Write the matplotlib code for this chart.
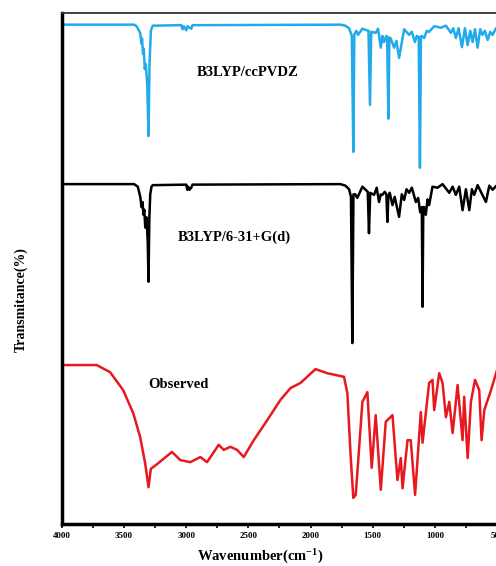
import numpy as np
import matplotlib.pyplot as plt

plt.rcParams['font.family'] = ['Liberation Serif', 'DejaVu Serif']
plt.rcParams['mathtext.default'] = 'regular'

# traced spectra: wavenumber (cm-1) and stacked transmittance (arb. %)
ccpvdz_wn = [4000, 3420, 3400, 3380, 3370, 3362, 3356, 3348, 3342, 3334, 3326, 3314,
             3304, 3296, 3285, 3270, 3040, 3030, 3020, 3000, 2990, 2960, 2950,
             1760, 1720, 1690, 1668, 1656, 1648, 1632, 1618, 1583, 1534, 1522, 1512,
             1476, 1457, 1435, 1422, 1409, 1390, 1384, 1374, 1366, 1355, 1328, 1309,
             1288, 1247, 1207, 1185, 1161, 1145, 1130, 1120, 1112, 1107, 1086, 1065,
             1046, 1005, 952, 911, 871, 852, 831, 809, 782, 758, 736, 715, 696, 677,
             656, 635, 616, 597, 575, 554, 535, 508, 500]
ccpvdz_t = [97.7, 97.7, 97.4, 96.5, 96.0, 94.0, 95.0, 92.0, 93.0, 89.0, 90.0, 86.0,
            75.9, 90.0, 96.5, 97.5, 97.6, 96.8, 97.4, 96.6, 97.4, 96.9, 97.6,
            97.7, 97.5, 97.0, 95.5, 72.8, 95.8, 96.5, 95.7, 96.9, 96.5, 82.0, 96.3,
            96.1, 96.9, 93.2, 95.5, 94.3, 95.5, 95.3, 79.3, 95.2, 95.0, 93.2, 94.5,
            91.2, 96.8, 95.7, 96.3, 94.3, 95.5, 95.3, 69.7, 95.3, 95.5, 95.1, 96.5,
            96.3, 97.4, 97.1, 97.5, 96.1, 97.0, 95.1, 97.0, 93.3, 97.0, 93.7, 96.5,
            94.3, 96.8, 93.2, 96.8, 95.7, 96.5, 94.7, 96.3, 95.7, 97.0, 97.0]

g631_wn = [4000, 3420, 3390, 3370, 3360, 3352, 3345, 3338, 3330, 3320, 3310, 3304,
           3297, 3290, 3280, 3270, 3000, 2992, 2985, 2975, 2960, 2950,
           1760, 1720, 1690, 1675, 1664, 1655, 1640, 1624, 1583, 1540, 1530, 1520,
           1489, 1468, 1449, 1435, 1422, 1403, 1390, 1382, 1374, 1363, 1341, 1323,
           1288, 1266, 1247, 1228, 1207, 1185, 1153, 1134, 1118, 1105, 1099, 1093,
           1086, 1073, 1059, 1046, 1019, 978, 938, 884, 857, 831, 804, 777, 750,
           723, 702, 683, 656, 589, 562, 535, 500]
g631_t = [66.5, 66.5, 66.0, 64.0, 62.0, 63.0, 60.5, 61.5, 58.0, 60.0, 55.0, 47.4,
          60.0, 64.5, 66.0, 66.3, 66.4, 65.4, 66.0, 65.4, 65.8, 66.4,
          66.5, 66.2, 65.5, 64.0, 35.4, 64.5, 64.5, 63.8, 66.0, 65.0, 56.9, 64.8,
          64.4, 65.8, 63.0, 64.5, 64.4, 65.0, 64.5, 59.1, 64.0, 64.8, 62.4, 64.0,
          60.1, 64.5, 63.4, 65.5, 64.8, 65.8, 63.0, 63.8, 61.0, 62.0, 42.5, 62.0,
          62.0, 60.5, 63.5, 62.4, 66.0, 65.8, 66.5, 64.8, 66.0, 64.4, 66.0, 61.4,
          65.5, 61.4, 65.5, 64.4, 66.3, 63.0, 66.2, 65.4, 66.3]

obs_wn = [4000, 3720, 3613, 3508, 3427, 3371, 3331, 3304, 3285, 3236, 3115, 3048,
          2968, 2887, 2833, 2739, 2699, 2645, 2591, 2538, 2457, 2349, 2242, 2161,
          2081, 1960, 1865, 1731, 1704, 1677, 1656, 1637, 1618, 1583, 1543, 1508,
          1476, 1435, 1395, 1341, 1301, 1274, 1260, 1220, 1194, 1159, 1113, 1099,
          1046, 1019, 1005, 965, 938, 911, 884, 857, 817, 777, 764, 736, 710, 677,
          643, 624, 602, 548, 500]
obs_t = [31.1, 31.1, 29.7, 26.2, 21.7, 17.0, 11.9, 7.2, 10.8, 11.7, 14.1, 12.5,
         12.1, 13.1, 12.1, 15.5, 14.5, 15.1, 14.5, 13.1, 16.4, 20.3, 24.3, 26.6,
         27.6, 30.3, 29.5, 28.8, 25.6, 13.1, 5.1, 5.7, 11.9, 23.9, 25.8, 11.0,
         21.3, 6.7, 20.0, 21.3, 8.6, 12.9, 7.0, 16.4, 16.4, 5.7, 21.9, 15.9,
         27.6, 28.2, 22.3, 29.5, 27.6, 20.9, 23.9, 17.8, 27.2, 16.4, 24.9, 12.9,
         23.9, 28.2, 26.2, 16.4, 22.3, 26.2, 30.1]

fig = plt.figure(figsize=(4.96, 5.66), dpi=100)
ax = fig.add_axes([0.125, 0.0742, 0.877, 0.903])

ax.plot(ccpvdz_wn, ccpvdz_t, color='#22aaea', lw=1.8)
ax.plot(g631_wn, g631_t, color='black', lw=1.8)
ax.plot(obs_wn, obs_t, color='#e8181f', lw=1.8)

ax.text(2508, 88.3, 'B3LYP/ccPVDZ', ha='center', va='center',
        fontsize=10.5, fontweight='bold')
ax.text(2613, 56.2, 'B3LYP/6-31+G(d)', ha='center', va='center',
        fontsize=10.5, fontweight='bold')
ax.text(3065, 27.2, 'Observed', ha='center', va='center',
        fontsize=10.5, fontweight='bold')

ax.set_xlim(4000, 500)
ax.set_ylim(0, 100)
ax.set_xticks(np.arange(4000, 499, -500))
ax.set_xticks(np.arange(3750, 499, -500), minor=True)
ax.set_yticks([])
ax.tick_params(axis='x', which='both', direction='out', length=3, width=1.2,
               labelsize=6.5, pad=3)
for lab in ax.get_xticklabels():
    lab.set_fontweight('bold')

ax.spines['left'].set_linewidth(2.5)
ax.spines['bottom'].set_linewidth(2.5)
ax.spines['top'].set_linewidth(1.3)
ax.spines['top'].set_color('#333333')
ax.spines['right'].set_visible(False)

fig.text(260 / 496, 1 - 557 / 566, 'Wavenumber(cm$^{-1}$)', ha='center', va='center',
         fontsize=10.5, fontweight='bold')
fig.text(21 / 496, 1 - 300 / 566, 'Transmitance(%)', ha='center', va='center',
         rotation=90, fontsize=10, fontweight='bold')

fig.savefig('out.png', dpi=100)
